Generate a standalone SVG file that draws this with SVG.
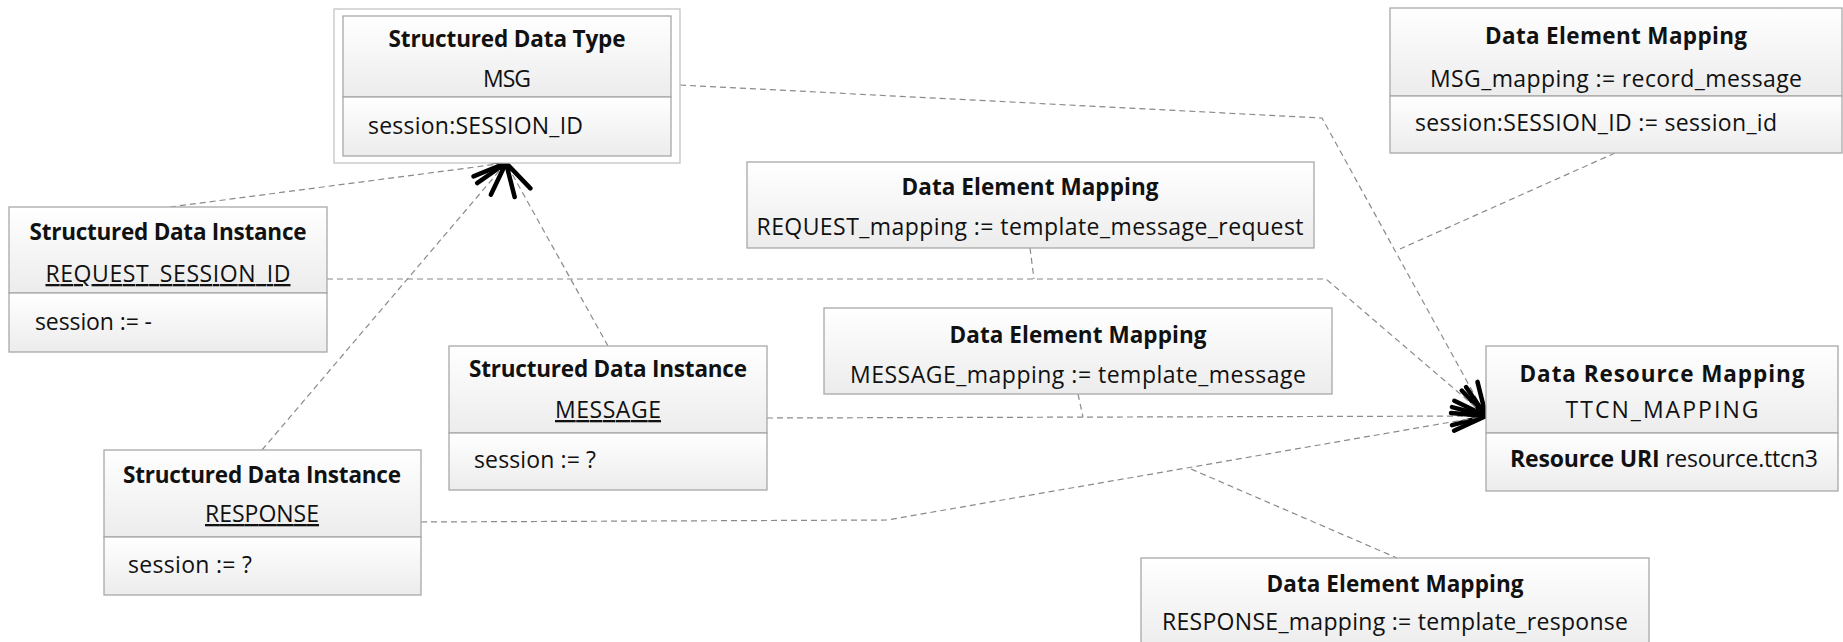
<svg xmlns="http://www.w3.org/2000/svg" width="1843" height="642" viewBox="0 0 1843 642">
<style>
text{font-family:"Open Sans","Liberation Sans",sans-serif;font-size:23px;fill:#111}
.t{font-weight:bold;font-size:22.5px;text-anchor:middle}
.c{text-anchor:middle}
.u{text-decoration:underline}
.box{stroke:#a8a8a8;stroke-width:1.3;fill:url(#g)}
.con{fill:none;stroke:#8a8a8a;stroke-width:1.2;stroke-dasharray:6 4}
</style>
<defs>
<linearGradient id="g" x1="0" y1="0" x2="0" y2="1">
<stop offset="0" stop-color="#ffffff"/>
<stop offset="1" stop-color="#ececec"/>
</linearGradient>
<marker id="arr" markerUnits="userSpaceOnUse" markerWidth="50" markerHeight="40" viewBox="-40 -20 50 40" refX="0" refY="0" orient="auto">
<path d="M-34,-9 L0,0 L-34,9" fill="none" stroke="#000" stroke-width="4.5" stroke-linecap="round" stroke-linejoin="round"/>
</marker>
</defs>
<rect width="1843" height="642" fill="#fff"/>

<g id="connectors">
<path class="con" d="M170,207 L506,163" marker-end="url(#arr)"/>
<path class="con" d="M262,450 L506,163" marker-end="url(#arr)"/>
<path class="con" d="M608,346 L506,163" marker-end="url(#arr)"/>
<path class="con" d="M680,85 L1322,118 L1486,416" marker-end="url(#arr)"/>
<path class="con" d="M327,279 L1326,279 L1486,416" marker-end="url(#arr)"/>
<path class="con" d="M767,418 L1486,416" marker-end="url(#arr)"/>
<path class="con" d="M421,522 L887,520 L1486,416" marker-end="url(#arr)"/>
<path class="con" d="M1615,153 L1400,249"/>
<path class="con" d="M1030,248 L1034,279"/>
<path class="con" d="M1078,394 L1083,417"/>
<path class="con" d="M1191,469 L1397,558"/>
</g>

<g id="msg-type">
<rect x="334" y="9" width="346" height="154" fill="#fff" stroke="#c4c4c4" stroke-width="1.3"/>
<rect class="box" x="343" y="16" width="328" height="81"/>
<rect class="box" x="343" y="97" width="328" height="59"/>
<text class="t" x="507" y="47" textLength="237">Structured Data Type</text>
<text class="c" x="507" y="87" textLength="48">MSG</text>
<text x="368" y="134" textLength="215">session:SESSION_ID</text>
</g>

<g id="request-session-id">
<rect class="box" x="9" y="207" width="318" height="86"/>
<rect class="box" x="9" y="293" width="318" height="59"/>
<text class="t" x="168" y="240" textLength="277">Structured Data Instance</text>
<text class="c u" x="168" y="282" textLength="245">REQUEST_SESSION_ID</text>
<text x="35" y="330" textLength="117">session := -</text>
</g>

<g id="message">
<rect class="box" x="449" y="346" width="318" height="87"/>
<rect class="box" x="449" y="433" width="318" height="57"/>
<text class="t" x="608" y="377" textLength="278">Structured Data Instance</text>
<text class="c u" x="608" y="418" textLength="106">MESSAGE</text>
<text x="474" y="468" textLength="122">session := ?</text>
</g>

<g id="response">
<rect class="box" x="104" y="450" width="317" height="87"/>
<rect class="box" x="104" y="537" width="317" height="58"/>
<text class="t" x="262" y="483" textLength="278">Structured Data Instance</text>
<text class="c u" x="262" y="522" textLength="114">RESPONSE</text>
<text x="128" y="573" textLength="124">session := ?</text>
</g>

<g id="msg-mapping">
<rect class="box" x="1390" y="8" width="452" height="88"/>
<rect class="box" x="1390" y="96" width="452" height="57"/>
<text class="t" x="1616" y="44" textLength="262">Data Element Mapping</text>
<text class="c" x="1616" y="87" textLength="372">MSG_mapping := record_message</text>
<text x="1415" y="131" textLength="362">session:SESSION_ID := session_id</text>
</g>

<g id="request-mapping">
<rect class="box" x="747" y="162" width="567" height="86"/>
<text class="t" x="1030" y="195" textLength="257">Data Element Mapping</text>
<text class="c" x="1030" y="235" textLength="547">REQUEST_mapping := template_message_request</text>
</g>

<g id="message-mapping">
<rect class="box" x="824" y="308" width="508" height="86"/>
<text class="t" x="1078" y="343" textLength="257">Data Element Mapping</text>
<text class="c" x="1078" y="383" textLength="456">MESSAGE_mapping := template_message</text>
</g>

<g id="ttcn-mapping">
<rect class="box" x="1486" y="346" width="352" height="87"/>
<rect class="box" x="1486" y="433" width="352" height="58"/>
<text class="t" x="1662" y="382" textLength="285">Data Resource Mapping</text>
<text class="c" x="1662" y="418" textLength="193">TTCN_MAPPING</text>
<text class="c" x="1664" y="467" textLength="308"><tspan font-weight="bold">Resource URI</tspan> resource.ttcn3</text>
</g>

<g id="response-mapping">
<rect class="box" x="1141" y="558" width="508" height="92"/>
<text class="t" x="1395" y="592" textLength="257">Data Element Mapping</text>
<text class="c" x="1395" y="630" textLength="466">RESPONSE_mapping := template_response</text>
</g>
</svg>
